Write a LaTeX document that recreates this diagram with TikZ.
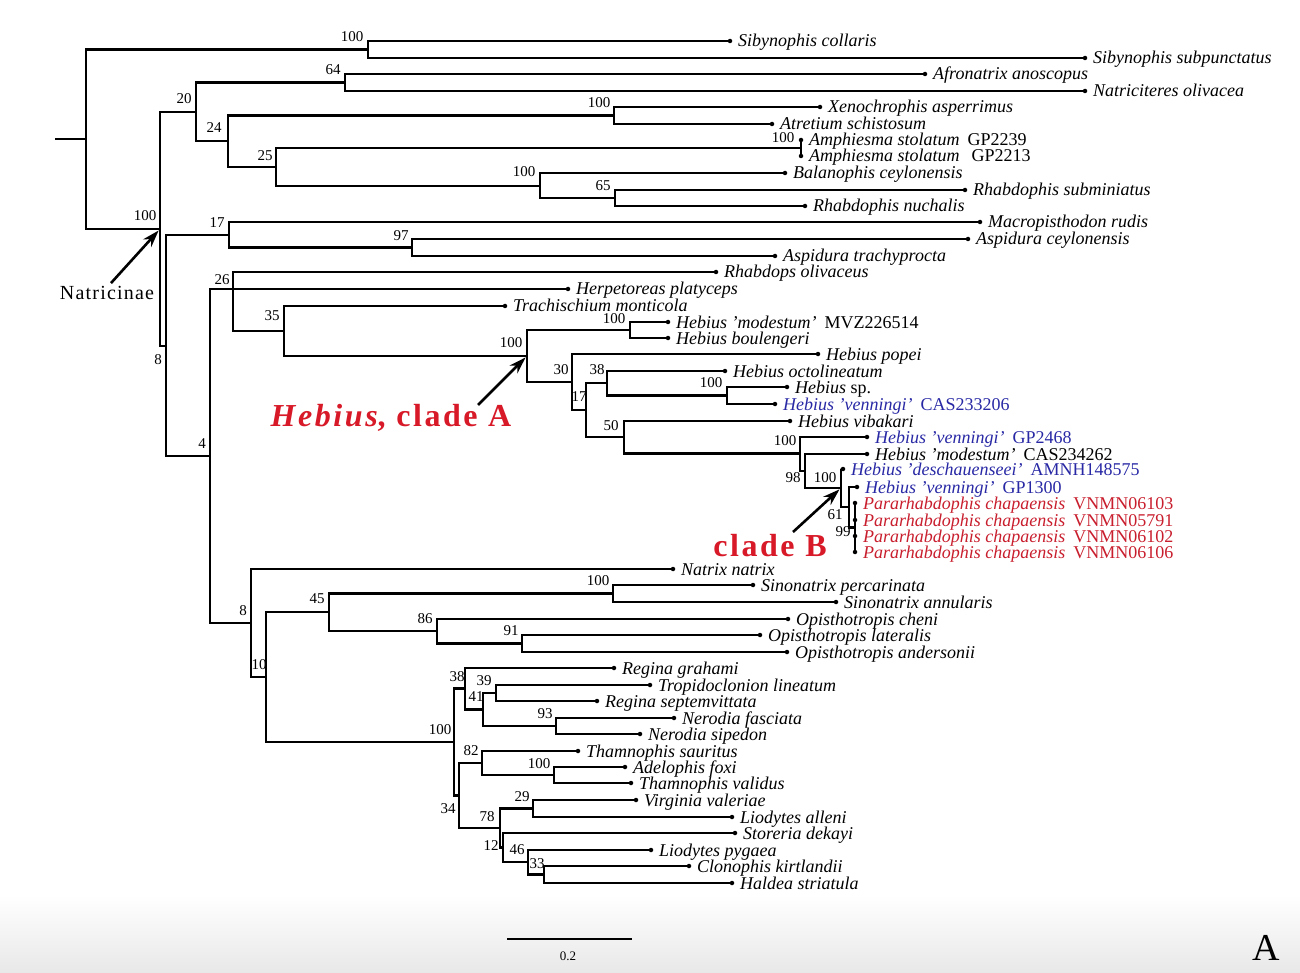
\documentclass[tikz,border=0pt]{standalone}
\usepackage{fontspec}
\setmainfont{Liberation Serif}
\usetikzlibrary{arrows.meta,positioning}
\definecolor{hebblue}{RGB}{40,40,165}
\definecolor{parared}{RGB}{200,30,45}
\definecolor{cladered}{RGB}{215,25,40}
\newcommand{\voucher}[1]{\hspace{8pt}{\upshape #1}}
\def\leaf[#1](#2)(#3,#4)#5{\node[tip] (#2) at (#3,#4) {}; \node[taxon,#1] (#2-t) at ([xshift=8pt,yshift=-6pt]#2.center) {#5}}
\tikzset{
  br/.style={line width=2.1pt},
  tip/.style={circle,fill,inner sep=0pt,minimum size=4.5pt},
  taxon/.style={anchor=base west,inner sep=0pt,font=\fontsize{18}{18}\selectfont\itshape},
  bs/.style={inner sep=0pt,font=\fontsize{15}{15}\selectfont},
  hb/.style={text=hebblue},
  pr/.style={text=parared},
  clade/.style={inner sep=0pt,text=cladered,font=\fontsize{32}{32}\selectfont\bfseries\addfontfeature{LetterSpace=8}},
  pointer/.style={line width=2.6pt,-{Stealth[length=17pt,width=11pt]},shorten >=2pt}
}

\begin{document}
\begin{tikzpicture}[x=1pt,y=-1pt]
	\useasboundingbox (0,0) rectangle (1300,973);
	\shade[top color=white,bottom color=black!9] (0,895) rectangle (1300,973);
	
	% internal nodes
	\coordinate (base) at (55,139);
	\coordinate (root) at (86,139);
	\coordinate (sib) at (368,49.5);
	\coordinate (nat) at (160,229);
	\coordinate (n20) at (196,112);
	\coordinate (n64) at (345,82.5);
	\coordinate (n24) at (228,141);
	\coordinate (nxen) at (614,115.5);
	\coordinate (n25) at (276,167);
	\coordinate (namph) at (801,148);
	\coordinate (nbal) at (540,186);
	\coordinate (n65) at (615,198);
	\coordinate (n8a) at (166,346);
	\coordinate (n17a) at (229,235);
	\coordinate (n97) at (412,247.5);
	\coordinate (n4) at (210,456);
	\coordinate (n26) at (233,289);
	\coordinate (n35) at (284,331);
	\coordinate (nA) at (527,356);
	\coordinate (nmod) at (630,330);
	\coordinate (n30) at (572,382);
	\coordinate (n17b) at (586,410);
	\coordinate (n38a) at (607,383);
	\coordinate (nsp) at (727,395.5);
	\coordinate (n50) at (624,437);
	\coordinate (n100c) at (800,453.5);
	\coordinate (n98) at (805,471);
	\coordinate (nB) at (841,488);
	\coordinate (n61) at (849,507);
	\coordinate (n99) at (855,527.5);
	\coordinate (n8b) at (251,623);
	\coordinate (n10) at (266,677);
	\coordinate (n45) at (329,612);
	\coordinate (nsino) at (613,593.5);
	\coordinate (n86) at (437,631);
	\coordinate (n91) at (522,643.5);
	\coordinate (nam) at (454,742);
	\coordinate (n38b) at (465,688.5);
	\coordinate (n41) at (483,709.5);
	\coordinate (n39) at (496,693);
	\coordinate (n93) at (556,726);
	\coordinate (n34) at (459,795.5);
	\coordinate (n82) at (482,763);
	\coordinate (nadel) at (554,775);
	\coordinate (n78) at (500,828);
	\coordinate (n29) at (533,808.5);
	\coordinate (n12) at (503,847.5);
	\coordinate (n46) at (528,862);
	\coordinate (n33) at (544,874.5);
	
	% taxa
	\leaf[](sibcol)(730,41){Sibynophis collaris};
	\leaf[](sibsub)(1085,58){Sibynophis subpunctatus};
	\leaf[](afro)(925,74){Afronatrix anoscopus};
	\leaf[](natri)(1085,91){Natriciteres olivacea};
	\leaf[](xeno)(820,107){Xenochrophis asperrimus};
	\leaf[](atre)(772,124){Atretium schistosum};
	\leaf[](amph1)(801,140){Amphiesma stolatum\voucher{GP2239}};
	\leaf[](amph2)(801,156){Amphiesma stolatum\voucher{\hspace{4pt}GP2213}};
	\leaf[](bal)(785,173){Balanophis ceylonensis};
	\leaf[](rsub)(965,190){Rhabdophis subminiatus};
	\leaf[](rnuc)(805,206){Rhabdophis nuchalis};
	\leaf[](macro)(980,222){Macropisthodon rudis};
	\leaf[](aceyl)(968,239){Aspidura ceylonensis};
	\leaf[](atrac)(775,256){Aspidura trachyprocta};
	\leaf[](rhabd)(716,272){Rhabdops olivaceus};
	\leaf[](herp)(568,289){Herpetoreas platyceps};
	\leaf[](trach)(505,306){Trachischium monticola};
	\leaf[](hmod)(668,322){Hebius 'modestum'\voucher{MVZ226514}};
	\leaf[](hboul)(668,338){Hebius boulengeri};
	\leaf[](popei)(818,354){Hebius popei};
	\leaf[](octo)(725,371){Hebius octolineatum};
	\leaf[](hsp)(787,387){Hebius {\upshape sp.}};
	\leaf[hb](hvcas)(775,404){Hebius 'venningi'\voucher{CAS233206}};
	\leaf[](vib)(790,421){Hebius vibakari};
	\leaf[hb](hv2468)(867,437){Hebius 'venningi'\voucher{GP2468}};
	\leaf[](hmcas)(867,454){Hebius 'modestum'\voucher{CAS234262}};
	\leaf[hb](desch)(843,469){Hebius 'deschauenseei'\voucher{AMNH148575}};
	\leaf[hb](hv1300)(857,487){Hebius 'venningi'\voucher{GP1300}};
	\leaf[pr](pc1)(855,503){Pararhabdophis chapaensis\voucher{VNMN06103}};
	\leaf[pr](pc2)(855,520){Pararhabdophis chapaensis\voucher{VNMN05791}};
	\leaf[pr](pc3)(855,536){Pararhabdophis chapaensis\voucher{VNMN06102}};
	\leaf[pr](pc4)(855,552){Pararhabdophis chapaensis\voucher{VNMN06106}};
	\leaf[](natrix)(673,569){Natrix natrix};
	\leaf[](sper)(753,585){Sinonatrix percarinata};
	\leaf[](sann)(836,602){Sinonatrix annularis};
	\leaf[](ocheni)(788,619){Opisthotropis cheni};
	\leaf[](olat)(760,635){Opisthotropis lateralis};
	\leaf[](oand)(787,652){Opisthotropis andersonii};
	\leaf[](rgra)(614,668){Regina grahami};
	\leaf[](trop)(650,685){Tropidoclonion lineatum};
	\leaf[](rsep)(597,701){Regina septemvittata};
	\leaf[](nfas)(674,718){Nerodia fasciata};
	\leaf[](nsip)(640,734){Nerodia sipedon};
	\leaf[](tsau)(578,751){Thamnophis sauritus};
	\leaf[](afoxi)(625,767){Adelophis foxi};
	\leaf[](tval)(631,783){Thamnophis validus};
	\leaf[](vval)(636,800){Virginia valeriae};
	\leaf[](lall)(732,817){Liodytes alleni};
	\leaf[](stor)(735,833){Storeria dekayi};
	\leaf[](lpyg)(651,850){Liodytes pygaea};
	\leaf[](clon)(689,866){Clonophis kirtlandii};
	\leaf[](hald)(732,883){Haldea striatula};
	
	% support values
	\node[bs] (bs-sib) at (352,37) {100};
	\node[bs] (bs-64) at (333,70) {64};
	\node[bs] (bs-20) at (184,99) {20};
	\node[bs] (bs-24) at (214,128) {24};
	\node[bs] (bs-xen) at (599,103) {100};
	\node[bs] (bs-amph) at (783,138) {100};
	\node[bs] (bs-25) at (265,156) {25};
	\node[bs] (bs-bal) at (524,172) {100};
	\node[bs] (bs-65) at (603,186) {65};
	\node[bs] (bs-nat) at (145,216) {100};
	\node[bs] (bs-17a) at (217,223) {17};
	\node[bs] (bs-97) at (401,236) {97};
	\node[bs] (bs-8a) at (158,360) {8};
	\node[bs] (bs-26) at (222,280) {26};
	\node[bs] (bs-35) at (272,316) {35};
	\node[bs] (bs-mod) at (614,319) {100};
	\node[bs] (bs-A) at (511,343) {100};
	\node[bs] (bs-30) at (561,370) {30};
	\node[bs] (bs-38a) at (597,370) {38};
	\node[bs] (bs-17b) at (579,397) {17};
	\node[bs] (bs-sp) at (711,383) {100};
	\node[bs] (bs-50) at (611,426) {50};
	\node[bs] (bs-c) at (785,441) {100};
	\node[bs] (bs-98) at (793,478) {98};
	\node[bs] (bs-B) at (825,478) {100};
	\node[bs] (bs-61) at (835,515) {61};
	\node[bs] (bs-99) at (843,532) {99};
	\node[bs] (bs-4) at (202,444) {4};
	\node[bs] (bs-8b) at (243,611) {8};
	\node[bs] (bs-10) at (259,665) {10};
	\node[bs] (bs-45) at (317,599) {45};
	\node[bs] (bs-sino) at (598,581) {100};
	\node[bs] (bs-86) at (425,619) {86};
	\node[bs] (bs-91) at (511,631) {91};
	\node[bs] (bs-38b) at (457,677) {38};
	\node[bs] (bs-39) at (484,681) {39};
	\node[bs] (bs-41) at (476,697) {41};
	\node[bs] (bs-93) at (545,714) {93};
	\node[bs] (bs-am) at (440,730) {100};
	\node[bs] (bs-82) at (471,751) {82};
	\node[bs] (bs-adel) at (539,764) {100};
	\node[bs] (bs-34) at (448,809) {34};
	\node[bs] (bs-29) at (522,797) {29};
	\node[bs] (bs-78) at (487,817) {78};
	\node[bs] (bs-12) at (491,846) {12};
	\node[bs] (bs-46) at (517,850) {46};
	\node[bs] (bs-33) at (537,864) {33};
	
	% branches
	\draw[br] (base) -- (root);
	\draw[br] (root) |- (sib) (root) |- (nat);
	\draw[br] (sib) |- (sibcol) (sib) |- (sibsub);
	\draw[br] (nat) |- (n20) (nat) |- (n8a);
	\draw[br] (n20) |- (n64) (n20) |- (n24);
	\draw[br] (n64) |- (afro) (n64) |- (natri);
	\draw[br] (n24) |- (nxen) (n24) |- (n25);
	\draw[br] (nxen) |- (xeno) (nxen) |- (atre);
	\draw[br] (n25) |- (namph) (n25) |- (nbal);
	\draw[br] (namph) |- (amph1) (namph) |- (amph2);
	\draw[br] (nbal) |- (bal) (nbal) |- (n65);
	\draw[br] (n65) |- (rsub) (n65) |- (rnuc);
	\draw[br] (n8a) |- (n17a) (n8a) |- (n4);
	\draw[br] (n17a) |- (macro) (n17a) |- (n97);
	\draw[br] (n97) |- (aceyl) (n97) |- (atrac);
	\draw[br] (n4) |- (n26) (n4) |- (n8b);
	\draw[br] (n26) |- (rhabd) (n26) |- (herp) (n26) |- (n35);
	\draw[br] (n35) |- (trach) (n35) |- (nA);
	\draw[br] (nA) |- (nmod) (nA) |- (n30);
	\draw[br] (nmod) |- (hmod) (nmod) |- (hboul);
	\draw[br] (n30) |- (popei) (n30) |- (n17b);
	\draw[br] (n17b) |- (n38a) (n17b) |- (n50);
	\draw[br] (n38a) |- (octo) (n38a) |- (nsp);
	\draw[br] (nsp) |- (hsp) (nsp) |- (hvcas);
	\draw[br] (n50) |- (vib) (n50) |- (n100c);
	\draw[br] (n100c) |- (hv2468) (n100c) |- (n98);
	\draw[br] (n98) |- (hmcas) (n98) |- (nB);
	\draw[br] (nB) |- (desch) (nB) |- (n61);
	\draw[br] (n61) |- (hv1300) (n61) |- (n99);
	\draw[br] (n99) |- (pc1) (n99) |- (pc4);
	\draw[br] (n8b) |- (natrix) (n8b) |- (n10);
	\draw[br] (n10) |- (n45) (n10) |- (nam);
	\draw[br] (n45) |- (nsino) (n45) |- (n86);
	\draw[br] (nsino) |- (sper) (nsino) |- (sann);
	\draw[br] (n86) |- (ocheni) (n86) |- (n91);
	\draw[br] (n91) |- (olat) (n91) |- (oand);
	\draw[br] (nam) |- (n38b) (nam) |- (n34);
	\draw[br] (n38b) |- (rgra) (n38b) |- (n41);
	\draw[br] (n41) |- (n39) (n41) |- (n93);
	\draw[br] (n39) |- (trop) (n39) |- (rsep);
	\draw[br] (n93) |- (nfas) (n93) |- (nsip);
	\draw[br] (n34) |- (n82) (n34) |- (n78);
	\draw[br] (n82) |- (tsau) (n82) |- (nadel);
	\draw[br] (nadel) |- (afoxi) (nadel) |- (tval);
	\draw[br] (n78) |- (n29) (n78) |- (n12);
	\draw[br] (n29) |- (vval) (n29) |- (lall);
	\draw[br] (n12) |- (stor) (n12) |- (n46);
	\draw[br] (n46) |- (lpyg) (n46) |- (n33);
	\draw[br] (n33) |- (clon) (n33) |- (hald);
	
	% callouts
	\node[inner sep=0pt,font=\fontsize{20}{20}\selectfont\addfontfeature{LetterSpace=6}] (natlab) at (107,293) {Natricinae};
	\draw[pointer] ([xshift=4pt,yshift=3pt]natlab.north) -- (nat);
	\node[clade] (cladeA) at (391,418) {\textit{Hebius}, clade A};
	\coordinate (aA) at (478,405);
	\draw[pointer] (aA) -- (nA);
	\node[clade] (cladeB) at (770,546) {clade B};
	\coordinate (aB) at (793,532);
	\draw[pointer] (aB) -- (nB);
	
	% scale bar
	\coordinate (sb1) at (507,939);
	\coordinate (sb2) at (632,939);
	\draw[line width=1.5pt] (sb1) -- (sb2);
	\node[inner sep=0pt,font=\fontsize{13}{13}\selectfont] (sblab) at (568,956) {0.2};
	\node[inner sep=0pt,font=\fontsize{38}{38}\selectfont] (panel) at (1266,948) {A};
\end{tikzpicture}
\end{document}
